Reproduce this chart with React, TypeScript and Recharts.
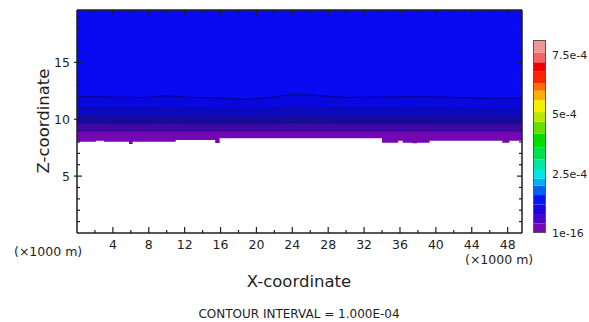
import React from 'react';
import { ComposedChart, BarChart, Area, Line, Bar, XAxis, YAxis } from 'recharts';

// x positions along the section (x1000 m)
const xKm = [0, 2.1, 3.0, 4, 5.8, 6.2, 8, 10, 11.0, 12, 15.4, 15.9, 19, 22, 24, 26, 30, 34.0, 35.8, 36.3, 37.4, 37.9, 39.3, 42, 46, 47.4, 48.2, 49.6];

// lower edge of the filled field (x1000 m), stepped
const bottomZ = [8.02, 8.11, 8.02, 8.02, 7.82, 8.02, 8.02, 8.02, 8.17, 8.17, 7.91, 8.32, 8.32, 8.32, 8.32, 8.32, 8.32, 7.94, 8.11, 7.94, 7.88, 7.94, 8.11, 8.11, 8.11, 7.94, 8.11, 8.11];

// contour boundaries (x1000 m)
const contourA = [11.98, 11.98, 11.97, 11.95, 11.94, 11.93, 11.92, 12.07, 12.0, 11.95, 11.88, 11.86, 11.75, 11.95, 12.19, 12.13, 11.92, 11.95, 11.97, 11.98, 11.98, 11.98, 11.97, 11.91, 11.84, 11.85, 11.86, 11.86];
const contourB = [11.08, 11.08, 11.07, 11.05, 11.04, 11.04, 11.03, 11.1, 11.08, 11.05, 11.0, 10.99, 10.95, 11.02, 11.15, 11.12, 11.02, 11.04, 11.05, 11.05, 11.05, 11.05, 11.04, 11.0, 10.96, 10.96, 10.97, 10.97];
const contourC = [10.28, 10.28, 10.27, 10.26, 10.25, 10.25, 10.24, 10.28, 10.27, 10.25, 10.22, 10.22, 10.2, 10.24, 10.3, 10.29, 10.25, 10.26, 10.26, 10.26, 10.26, 10.26, 10.25, 10.23, 10.21, 10.21, 10.22, 10.22];
const contourD = [9.62, 9.62, 9.62, 9.61, 9.61, 9.61, 9.6, 9.62, 9.62, 9.61, 9.59, 9.59, 9.58, 9.6, 9.63, 9.62, 9.6, 9.6, 9.61, 9.61, 9.61, 9.61, 9.6, 9.59, 9.58, 9.58, 9.58, 9.58];
const purpleTop = 8.9;
const bandBase = 8.8;

const zMax = 19.6;
const xMax = 49.6;
const xTicks = [2, 4, 6, 8, 10, 12, 14, 16, 18, 20, 22, 24, 26, 28, 30, 32, 34, 36, 38, 40, 42, 44, 46, 48];
const zTicks = [1, 2, 3, 4, 5, 6, 7, 8, 9, 10, 11, 12, 13, 14, 15, 16, 17, 18, 19];

// colour bar (units of 1e-4)
const cbSizes = [0.4, 0.4, 0.4, 0.4, 0.4, 0.3, 0.4, 0.4, 0.5, 0.6, 0.5, 0.4, 0.5, 0.4, 0.3, 0.5, 0.4, 0.4, 0.54];
const cbColors = ['#7a08b4', '#4a06c8', '#2004e0', '#0414f2', '#0060f0', '#00b0f0', '#00e6e6', '#00e6a0', '#00e050', '#00de00', '#66e000', '#bce800', '#f6f000', '#ffb000', '#ff7000', '#ff2400', '#f00000', '#f06464', '#f09494'];
const cbTicks = [0, 2.5, 5, 7.5];
const cbTickLabels = ['1e-16', '2.5e-4', '5e-4', '7.5e-4'];

const FONT = '"DejaVu Sans", sans-serif';
const INK = '#1e1e1e';

const rows = xKm.map((x, i) => ({
  x,
  top: [bandBase, zMax],
  bandA: [bandBase, contourA[i]],
  bandB: [bandBase, contourB[i]],
  bandC: [bandBase, contourC[i]],
  bandD: [bandBase, contourD[i]],
  purple: [bottomZ[i], purpleTop],
  line: contourA[i],
}));

const cbRow = [cbSizes.reduce((acc: any, v, i) => ({ ...acc, ['s' + i]: v }), { name: 'c' })];
const cbMax = cbSizes.reduce((a, b) => a + b, 0);

const BottomTick = ({ x, y, payload }: any) => {
  const major = payload.value % 4 === 0;
  return (
    <g>
      <line x1={x} x2={x} y1={y} y2={y - (major ? 6 : 3)} stroke={INK} strokeWidth={1.2} />
      {major && (
        <text x={x} y={y + 16} textAnchor="middle" fontFamily={FONT} fontSize={12.5} fill={INK}>
          {payload.value}
        </text>
      )}
    </g>
  );
};

const TopTick = ({ x, y, payload }: any) => {
  const major = payload.value % 4 === 0;
  return <line x1={x} x2={x} y1={y} y2={y + (major ? 6 : 3)} stroke={INK} strokeWidth={1.2} />;
};

const LeftTick = ({ x, y, payload }: any) => {
  const major = payload.value % 5 === 0;
  return (
    <g>
      <line x1={x - (major ? 3 : 0)} x2={x + (major ? 5 : 3)} y1={y} y2={y} stroke={INK} strokeWidth={1.2} />
      {major && (
        <text x={x - 7} y={y + 4.5} textAnchor="end" fontFamily={FONT} fontSize={12.5} fill={INK}>
          {payload.value}
        </text>
      )}
    </g>
  );
};

const RightTick = ({ x, y, payload }: any) => {
  const major = payload.value % 5 === 0;
  return <line x1={x} x2={x - (major ? 5 : 3)} y1={y} y2={y} stroke={INK} strokeWidth={1.2} />;
};

const CbTick = ({ x, y, payload }: any) => {
  const idx = cbTicks.indexOf(payload.value);
  return (
    <text x={x} y={y + 4} textAnchor="start" fontFamily={FONT} fontSize={11} fill={INK}>
      {cbTickLabels[idx]}
    </text>
  );
};

const axisLine = { stroke: INK, strokeWidth: 1.5 };

export default function App() {
  return (
    <div style={{ position: 'absolute', left: 0, top: 0, width: 589, height: 322, overflow: 'hidden', background: '#fff' }}>
      <div style={{ position: 'absolute', left: 0, top: 0 }}>
        <ComposedChart width={589} height={322} data={rows} margin={{ top: 9, right: 66, bottom: 88, left: 76 }}>
          <XAxis xAxisId="b" type="number" dataKey="x" domain={[0, xMax]} ticks={xTicks} interval={0}
            height={1} tickSize={0} tickMargin={0} tickLine={false} axisLine={axisLine} tick={<BottomTick />} />
          <XAxis xAxisId="t" orientation="top" type="number" dataKey="x" domain={[0, xMax]} ticks={xTicks} interval={0}
            height={1} tickSize={0} tickMargin={0} tickLine={false} axisLine={axisLine} tick={<TopTick />} />
          <YAxis yAxisId="l" type="number" domain={[0, zMax]} ticks={zTicks} interval={0}
            width={1} tickSize={0} tickMargin={0} tickLine={false} axisLine={axisLine} tick={<LeftTick />} />
          <YAxis yAxisId="r" orientation="right" type="number" domain={[0, zMax]} ticks={zTicks} interval={0}
            width={1} tickSize={0} tickMargin={0} tickLine={false} axisLine={axisLine} tick={<RightTick />} />

          <Area xAxisId="b" yAxisId="l" dataKey="top" type="linear" fill="#0a0af2" fillOpacity={1} stroke="none" isAnimationActive={false} />
          <Area xAxisId="b" yAxisId="l" dataKey="bandA" type="linear" fill="#0707de" fillOpacity={1} stroke="none" isAnimationActive={false} />
          <Area xAxisId="b" yAxisId="l" dataKey="bandB" type="linear" fill="#0c08bc" fillOpacity={1} stroke="none" isAnimationActive={false} />
          <Area xAxisId="b" yAxisId="l" dataKey="bandC" type="linear" fill="#160a98" fillOpacity={1} stroke="none" isAnimationActive={false} />
          <Area xAxisId="b" yAxisId="l" dataKey="bandD" type="linear" fill="#3c0aa2" fillOpacity={1} stroke="none" isAnimationActive={false} />
          <Area xAxisId="b" yAxisId="l" dataKey="purple" type="stepAfter" fill="#7408b2" fillOpacity={1} stroke="none" isAnimationActive={false} />
          <Line xAxisId="b" yAxisId="l" dataKey="line" type="linear" stroke="#06069a" strokeWidth={1.3} dot={false} isAnimationActive={false} />
          <Line xAxisId="t" yAxisId="r" dataKey="line" type="linear" stroke="none" dot={false} legendType="none" isAnimationActive={false} />
        </ComposedChart>
      </div>

      <div style={{ position: 'absolute', left: 533, top: 30 }}>
        <BarChart width={63} height={213} data={cbRow} margin={{ top: 10, right: 0, bottom: 10, left: 0 }} barCategoryGap={0} barGap={0}>
          <XAxis dataKey="name" hide />
          <YAxis orientation="right" type="number" domain={[0, cbMax]} ticks={cbTicks} interval={0} width={50}
            tickSize={0} tickMargin={6} tickLine={false} axisLine={false} tick={<CbTick />} />
          {cbColors.map((c, i) => (
            <Bar key={i} dataKey={'s' + i} stackId="cb" fill={c} isAnimationActive={false} />
          ))}
        </BarChart>
      </div>
      <div style={{ position: 'absolute', left: 533, top: 40, width: 13, height: 193, border: '1px solid #555', boxSizing: 'border-box' }} />

      <svg width={589} height={322} style={{ position: 'absolute', left: 0, top: 0, pointerEvents: 'none' }}>
        <text transform="translate(49,121) rotate(-90)" textAnchor="middle" fontFamily={FONT} fontSize={16.5} fill={INK}>Z-coordinate</text>
        <text x={14} y={256} fontFamily={FONT} fontSize={12.5} fill={INK}>(×1000 m)</text>
        <text x={465} y={264} fontFamily={FONT} fontSize={12.5} fill={INK}>(×1000 m)</text>
        <text x={299} y={286.5} textAnchor="middle" fontFamily={FONT} fontSize={16.5} fill={INK}>X-coordinate</text>
        <text x={299} y={318} textAnchor="middle" fontFamily={FONT} fontSize={12} fill={INK}>CONTOUR INTERVAL = 1.000E-04</text>
      </svg>
    </div>
  );
}
